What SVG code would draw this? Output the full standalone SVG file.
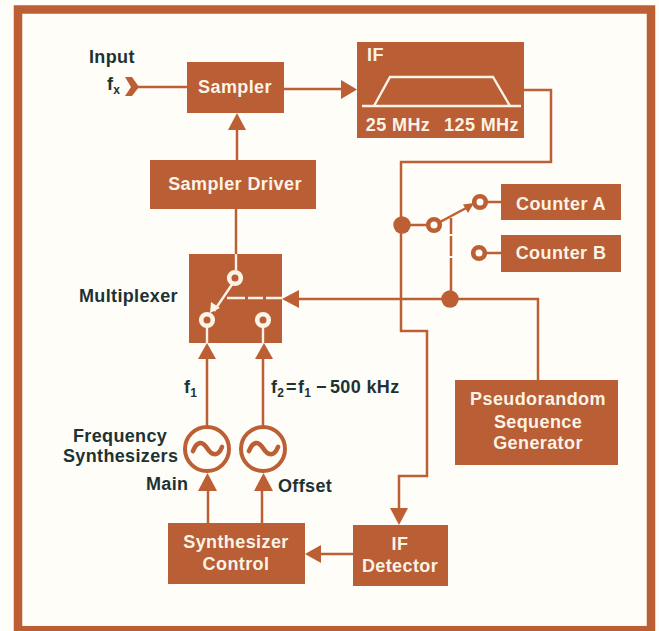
<svg xmlns="http://www.w3.org/2000/svg" width="659" height="631" viewBox="0 0 659 631">
<style>
.b{fill:#b95e35}
.l{fill:none;stroke:#bd5f35;stroke-width:2.5}
.w{fill:none;stroke:#fbf3e6;stroke-width:2.4}
.a{fill:#bd5f35}
.t{font-family:"Liberation Sans",Arial,sans-serif;font-weight:700;font-size:18px;letter-spacing:.4px;fill:#fbf3e6;text-anchor:middle}
.k{font-family:"Liberation Sans",Arial,sans-serif;font-weight:700;font-size:18px;letter-spacing:.35px;fill:#1e3234}
.s{font-size:12px}
.c{fill:#fefdf8;stroke:#bd5f35;stroke-width:4.6}
.cw{fill:#b95e35;stroke:#fbf3e6;stroke-width:4.6}
.o{fill:#fefdf8;stroke:#bd5f35;stroke-width:4}
.v{fill:none;stroke:#bd5f35;stroke-width:4.6;stroke-linecap:round}
</style>
<rect width="659" height="631" fill="#fefdf8"/>
<rect x="18" y="9.500" width="633" height="620.700" fill="none" stroke="#bd5f35" stroke-width="8.500"/>
<g id="connectors">
<path class="l" d="M136 87H187"/>
<path class="l" d="M284 89H343"/>
<path class="a" d="M357 89.500L341 80V99Z"/>
<path class="l" d="M237 160V128"/>
<path class="a" d="M237 113L228 130H246Z"/>
<path class="l" d="M236 209V255"/>
<path class="l" d="M524 90H551V162H401V331H427V476H399V510"/>
<path class="a" d="M399 525L390 508H408Z"/>
<path class="l" d="M402 225H428"/>
<path class="l" d="M440 222L468 207"/>
<path class="a" d="M474 203L463 204.500L468 213Z"/>
<path class="l" d="M487 202H501"/>
<path class="l" d="M486 253H501"/>
<path class="l" stroke-width="2.200" d="M451 218V234M451 236V256M451 258V299"/>
<path class="l" d="M298 299H538V381"/>
<path class="a" d="M282 299L299 290V308Z"/>
<path class="l" d="M207 357V432"/>
<path class="a" d="M207 343L198 359H216Z"/>
<path class="l" d="M263 357V432"/>
<path class="a" d="M264 343L255 359H273Z"/>
<path class="l" d="M208 489V524"/>
<path class="a" d="M207.500 473L198 491H217Z"/>
<path class="l" d="M262 489V524"/>
<path class="a" d="M263.500 473L254 491H273Z"/>
<path class="l" d="M320 554H353"/>
<path class="a" d="M305 554L321 545V563Z"/>
<circle class="a" cx="402" cy="225" r="8.700"/>
<circle class="a" cx="450" cy="299" r="8.700"/>
<path class="a" d="M125 77H132L139 87L132 96H125L131 87Z"/>
</g>
<g id="sampler"><rect class="b" x="187" y="62" width="97" height="51"/><text class="t" x="235" y="93">Sampler</text></g>
<g id="if-filter"><rect class="b" x="357" y="42" width="167" height="96"/><text class="t" x="367" y="61" style="text-anchor:start">IF</text><path class="w" d="M362 106H521M374 106L390 77H493L510 106"/><text class="t" x="398" y="131">25 MHz</text><text class="t" x="481.500" y="131">125 MHz</text></g>
<g id="sampler-driver"><rect class="b" x="150" y="160" width="166" height="49"/><text class="t" x="235" y="190">Sampler Driver</text></g>
<g id="if-switch"><circle class="c" cx="434" cy="225" r="5.800"/><circle class="c" cx="480" cy="202" r="5.800"/><circle class="c" cx="479" cy="253" r="5.800"/></g>
<g id="counter-a"><rect class="b" x="501" y="184" width="120" height="36"/><text class="t" x="561" y="210">Counter A</text></g>
<g id="counter-b"><rect class="b" x="501" y="235" width="120" height="37"/><text class="t" x="561" y="259">Counter B</text></g>
<g id="multiplexer"><rect class="b" x="189" y="254" width="93" height="89"/>
<path class="w" d="M236 254V270M207 320V343M263 325V343M233 283L214 311"/>
<path class="w" stroke-width="2" d="M227 298H245M248 298H263M266 298H282"/>
<path fill="#fbf3e6" d="M210 313L211 302L220 308Z"/>
<circle class="cw" cx="235" cy="278" r="5.800"/><circle class="cw" cx="207" cy="320" r="5.800"/><circle class="cw" cx="263" cy="320" r="5.800"/></g>
<text id="label-multiplexer" class="k" x="79" y="302">Multiplexer</text>
<g id="labels">
<text class="k" x="89" y="63">Input</text>
<text class="k" x="107" y="90">f<tspan class="s" dy="4">x</tspan></text>
<text class="k" x="184" y="393">f<tspan class="s" dy="4">1</tspan></text>
<text class="k" x="271" y="393">f<tspan class="s" dy="4">2</tspan><tspan x="286" dy="-4">=</tspan><tspan x="298">f</tspan><tspan class="s" dy="4">1</tspan><tspan x="316" dy="-4">−</tspan><tspan x="330">500 kHz</tspan></text>
<text class="k" x="73" y="442">Frequency</text>
<text class="k" x="63" y="462">Synthesizers</text>
<text class="k" x="146" y="490">Main</text>
<text class="k" x="278" y="492">Offset</text>
</g>
<g id="pseudorandom"><rect class="b" x="455" y="380" width="163" height="85"/><text class="t" x="538" y="405">Pseudorandom</text><text class="t" x="538" y="428">Sequence</text><text class="t" x="538" y="449">Generator</text></g>
<g id="synth-main"><circle class="o" cx="207" cy="449" r="22"/><path class="v" d="M193 451C197 441 202 441 207 448C212 456 218 457 222 447"/></g>
<g id="synth-offset"><circle class="o" cx="263" cy="449" r="22"/><path class="v" d="M249 451C253 441 258 441 263 448C268 456 274 457 278 447"/></g>
<g id="synth-control"><rect class="b" x="168" y="523" width="137" height="61"/><text class="t" x="236" y="548">Synthesizer</text><text class="t" x="236" y="570">Control</text></g>
<g id="if-detector"><rect class="b" x="353" y="525" width="95" height="61"/><text class="t" x="400" y="550">IF</text><text class="t" x="400" y="572">Detector</text></g>
</svg>
